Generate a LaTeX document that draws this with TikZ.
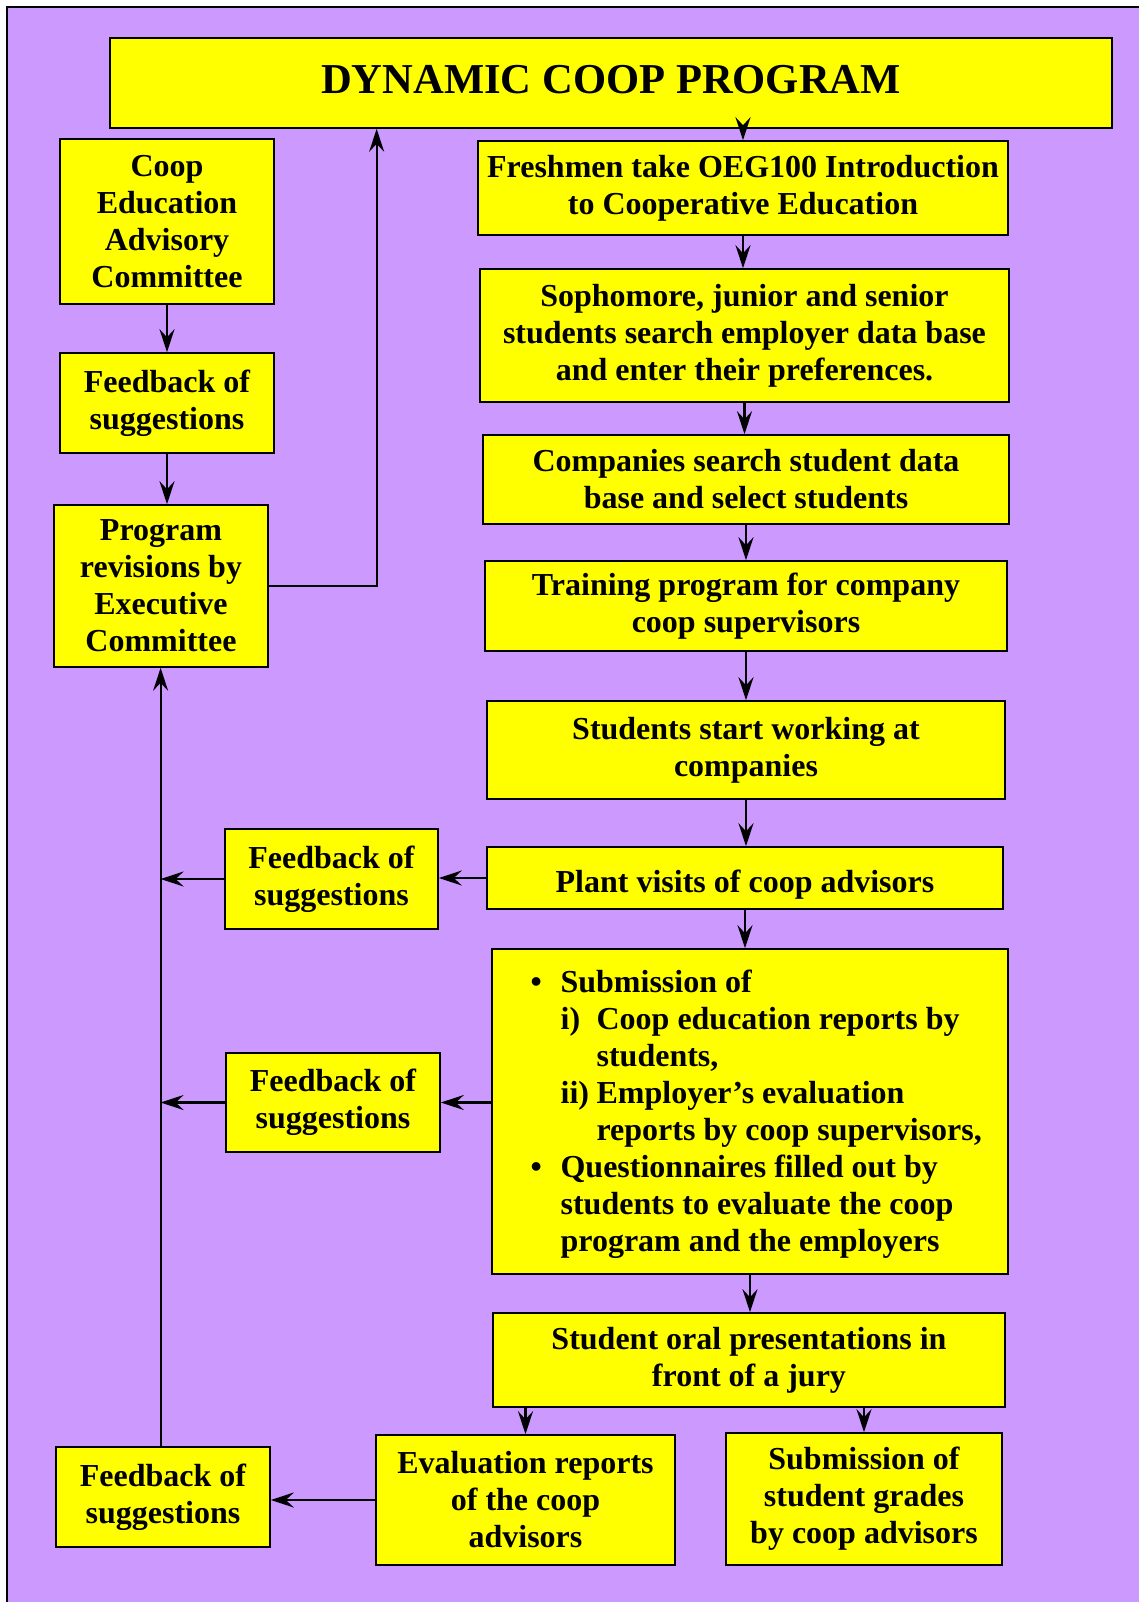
\documentclass[tikz,border=0pt]{standalone}
\usepackage{fontspec}
\setmainfont{Liberation Serif}
\usepackage{tikz}
\usetikzlibrary{calc,arrows.meta}
\definecolor{lilac}{HTML}{CC99FF}
\definecolor{lemon}{HTML}{FFFF00}

\begin{document}
\begin{tikzpicture}[x=0.5pt,y=0.5pt,yscale=-1,
  box/.style 2 args={draw,line width=0.8pt,fill=lemon,minimum width=#1,minimum height=#2,
    inner sep=0pt,align=center,font=\bfseries\fontsize{16}{18.5}\selectfont,
    execute at begin node=\rule{0pt}{18pt}},
  txt/.style={inner sep=0pt,align=left,font=\bfseries\fontsize{16}{18.5}\selectfont},
  arr/.style={line width=1.1pt,-{Stealth[length=11.5pt,width=7.5pt,inset=4pt]}}]
\useasboundingbox (0,0) rectangle (1139,1602);

%Background
\fill [lilac] (7,7) rectangle (1139,1602);
\draw [line width=1pt] (7,1602) -- (7,7) -- (1139,7);

% Title
\node [box={501pt}{45pt},font=\bfseries\fontsize{21.3}{25}\selectfont,text depth=7.5pt,
  execute at begin node={}] (title) at (611,83) {DYNAMIC COOP PROGRAM};

% Left column
\node [box={107pt}{82.5pt}] (coop) at (167,221.5) {Coop\\Education\\Advisory\\Committee};
\node [box={107pt}{50pt}] (fbA) at (167,403) {Feedback of\\suggestions};
\node [box={107pt}{81pt}] (prog) at (161,586) {Program\\revisions by\\Executive\\Committee};
\node [box={106.5pt}{50pt}] (fbB) at (331.5,879) {Feedback of\\suggestions};
\node [box={107pt}{49.5pt}] (fbC) at (333,1102.5) {Feedback of\\suggestions};
\node [box={107pt}{50pt}] (fbD) at (163,1497) {Feedback of\\suggestions};

% Right column
\node [box={265pt}{47pt}] (fresh) at (743,188) {Freshmen take OEG100 Introduction\\to Cooperative Education};
\node [box={264.5pt}{66.5pt}] (soph) at (744.5,335.5) {Sophomore, junior and senior\\students search employer data base\\and enter their preferences.};
\node [box={263pt}{44.5pt}] (comp) at (746,479.5) {Companies search student data\\base and select students};
\node [box={261pt}{45pt}] (train) at (746,606) {Training program for company\\coop supervisors};
\node [box={259pt}{49pt}] (start) at (746,750) {Students start working at\\companies};
\node [box={258pt}{31pt}] (plant) at (745,878) {Plant visits of coop advisors};
\node [box={258pt}{162.5pt}] (submit) at (750,1111.5) {};
\node [txt,anchor=west] (submittxt) at ([xshift=19.5pt,yshift=1.5pt]submit.west) {%
  \begin{tabular}{@{}p{15pt}@{}l@{}}
  \textbullet & Submission of\\
   & \makebox[18pt][l]{i)}Coop education reports by\\
   & \makebox[18pt][l]{}students,\\
   & \makebox[18pt][l]{ii)}Employer's evaluation\\
   & \makebox[18pt][l]{}reports by coop supervisors,\\
  \textbullet & Questionnaires filled out by\\
   & students to evaluate the coop\\
   & program and the employers
  \end{tabular}};
\node [box={256pt}{47pt}] (oral) at (749,1360) {Student oral presentations in\\front of a jury};
\node [box={149.5pt}{65pt}] (evalr) at (525.5,1500) {Evaluation reports\\of the coop\\advisors};
\node [box={138pt}{66pt}] (grades) at (864,1499) {Submission of\\student grades\\by coop advisors};

% Arrows down the right column
\draw [arr] (title.south -| fresh.north) -- (fresh.north);
\foreach \p/\q in {fresh/soph,soph/comp,comp/train,train/start,start/plant,plant/submit,submit/oral,coop/fbA,fbA/prog}
  \draw [arr] (\p.south) -- (\p.south |- \q.north);
\draw [arr] (oral.south -| evalr.north) -- (evalr.north);
\draw [arr] (oral.south -| grades.north) -- (grades.north);

% Feedback loops
\coordinate (spine) at ([xshift=-1.2pt]fbD.north);
\draw [arr] (prog.east) -| ($(title.south west)!0.2665!(title.south east)$);
\draw [arr] (plant.west) -- (plant.west -| fbB.east);
\draw [arr] (fbC.east -| submit.west) -- (fbC.east);
\draw [arr] (evalr.west) -- (evalr.west -| fbD.east);
\draw [arr] (spine) -- (spine |- prog.south);
\draw [arr] (fbB.west) -- (fbB.west -| spine);
\draw [arr] (fbC.west) -- (fbC.west -| spine);
\end{tikzpicture}
\end{document}
